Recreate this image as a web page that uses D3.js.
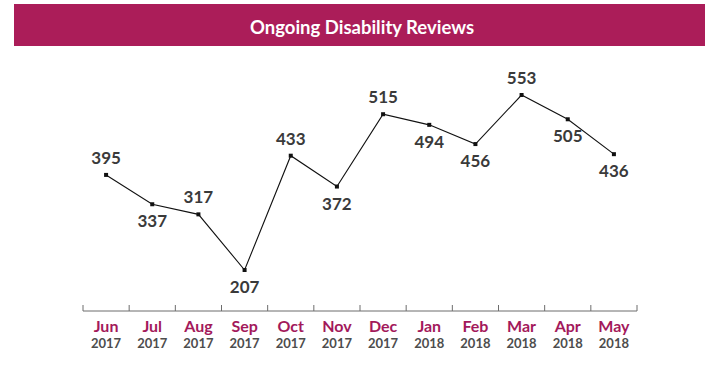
<!DOCTYPE html>
<html>
<head>
<meta charset="utf-8">
<script src="https://cdn.jsdelivr.net/npm/d3@7"></script>
<style>
  body { margin: 0; background: #fff; }
  text { font-family: Lato, "Open Sans", sans-serif; }
</style>
</head>
<body>
<svg id="chart" width="720" height="374"></svg>
<script>
// chart data
var months = ["Jun", "Jul", "Aug", "Sep", "Oct", "Nov", "Dec", "Jan", "Feb", "Mar", "Apr", "May"];
var years = ["2017", "2017", "2017", "2017", "2017", "2017", "2017", "2018", "2018", "2018", "2018", "2018"];
var reviews = [395, 337, 317, 207, 433, 372, 515, 494, 456, 553, 505, 436];
// label above (1) or below (0) the point
var labelAbove = [1, 0, 1, 0, 1, 0, 1, 0, 0, 1, 0, 0];

var svg = d3.select("#chart");
var maroon = "#ab1d59";

// title banner
svg.append("rect")
  .attr("x", 14).attr("y", 4)
  .attr("width", 691).attr("height", 42)
  .attr("fill", maroon);
svg.append("text")
  .attr("x", 362).attr("y", 34)
  .attr("text-anchor", "middle")
  .attr("fill", "#fff")
  .attr("font-size", 18.5)
  .attr("font-weight", 700)
  .text("Ongoing Disability Reviews");

var x = d3.scaleBand().domain(months).range([83, 637]);
var y = d3.scaleLinear().domain([207, 553]).range([270, 95]);

// axis with ticks at band edges
var axisY = 311;
var g = svg.append("g");
g.append("line")
  .attr("x1", 83).attr("x2", 637)
  .attr("y1", axisY).attr("y2", axisY)
  .attr("stroke", "#6d6d6d").attr("stroke-width", 1);
var edges = months.map(function(m) { return x(m); }).concat([x.range()[1]]);
g.selectAll("line.tick")
  .data(edges)
  .enter().append("line")
  .attr("class", "tick")
  .attr("x1", function(d) { return d; })
  .attr("x2", function(d) { return d; })
  .attr("y1", axisY - 6).attr("y2", axisY)
  .attr("stroke", "#6d6d6d").attr("stroke-width", 1);

g.selectAll("text.month")
  .data(months)
  .enter().append("text")
  .attr("class", "month")
  .attr("x", function(d) { return x(d) + x.bandwidth() / 2; })
  .attr("y", 332)
  .attr("text-anchor", "middle")
  .attr("fill", "#a3195b")
  .attr("font-size", 16)
  .attr("font-weight", 700)
  .text(function(d) { return d; });

g.selectAll("text.year")
  .data(years)
  .enter().append("text")
  .attr("class", "year")
  .attr("x", function(d, i) { return x(months[i]) + x.bandwidth() / 2; })
  .attr("y", 348)
  .attr("text-anchor", "middle")
  .attr("fill", "#4d4d4d")
  .attr("font-size", 13)
  .attr("font-weight", 700)
  .text(function(d) { return d; });

// line
var line = d3.line()
  .x(function(d, i) { return x(months[i]) + x.bandwidth() / 2; })
  .y(function(d) { return y(d); });

svg.append("path")
  .datum(reviews)
  .attr("d", line)
  .attr("fill", "none")
  .attr("stroke", "#111")
  .attr("stroke-width", 1.1);

svg.selectAll("rect.pt")
  .data(reviews)
  .enter().append("rect")
  .attr("class", "pt")
  .attr("x", function(d, i) { return x(months[i]) + x.bandwidth() / 2 - 2; })
  .attr("y", function(d) { return y(d) - 2; })
  .attr("width", 4).attr("height", 4)
  .attr("fill", "#111");

svg.selectAll("text.val")
  .data(reviews)
  .enter().append("text")
  .attr("class", "val")
  .attr("x", function(d, i) { return x(months[i]) + x.bandwidth() / 2; })
  .attr("y", function(d, i) { return y(d) + (labelAbove[i] ? -11 : 23); })
  .attr("text-anchor", "middle")
  .attr("fill", "#3a3a3a")
  .attr("font-size", 17)
  .attr("font-weight", 700)
  .text(function(d) { return d; });
</script>
</body>
</html>
